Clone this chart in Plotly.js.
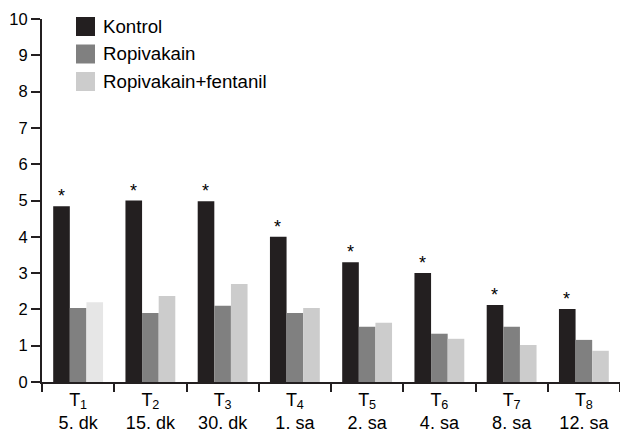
<!DOCTYPE html>
<html>
<head>
<meta charset="utf-8">
<script src="https://cdn.plot.ly/plotly-3.0.1.min.js"></script>
<style>html,body{margin:0;padding:0;background:#fff;}#chart{width:620px;height:434px;}</style>
</head>
<body>
<div id="chart"></div>
<script>
const categories = ["T1", "T2", "T3", "T4", "T5", "T6", "T7", "T8"];
const tickLabels = ["T<sub>1</sub><br>5. dk", "T<sub>2</sub><br>15. dk", "T<sub>3</sub><br>30. dk", "T<sub>4</sub><br>1. sa",
                    "T<sub>5</sub><br>2. sa", "T<sub>6</sub><br>4. sa", "T<sub>7</sub><br>8. sa", "T<sub>8</sub><br>12. sa"];
const seriesNames = ["Kontrol", "Ropivakain", "Ropivakain+fentanil"];
const kontrol = [4.84, 5.0, 4.98, 4.0, 3.3, 3.0, 2.12, 2.01];
const ropivakain = [2.04, 1.9, 2.1, 1.9, 1.52, 1.33, 1.52, 1.16];
const ropiFentanil = [2.2, 2.37, 2.7, 2.04, 1.63, 1.19, 1.02, 0.86];
const significant = [true, true, true, true, true, true, true, true];

const colors = ["#231f20", "#808080", "#cccccc"];
const rfColors = ropiFentanil.map((v, i) => i === 0 ? "#e6e6e6" : colors[2]);

const W = 620, H = 434;
const M = {l: 42, r: 0, t: 19, b: 52};
const px = x => (x - M.l) / (W - M.l - M.r);
const py = y => (H - M.b - y) / (H - M.t - M.b);
const FONT = "Liberation Sans, Arial, Helvetica, sans-serif";

const traces = [
  {type: "bar", name: seriesNames[0], x: categories, y: kontrol, marker: {color: colors[0]}},
  {type: "bar", name: seriesNames[1], x: categories, y: ropivakain, marker: {color: colors[1]}},
  {type: "bar", name: seriesNames[2], x: categories, y: ropiFentanil, marker: {color: rfColors}}
];

const annotations = [];
categories.forEach((c, i) => {
  if (significant[i]) {
    annotations.push({x: c, y: kontrol[i], xref: "x", yref: "y", text: "*", showarrow: false,
      xshift: -17, yanchor: "bottom", yshift: -2, font: {size: 18, color: "#000", family: FONT}});
  }
});

const shapes = [];
seriesNames.forEach((n, i) => {
  const top = 17 + i * 27.5;
  shapes.push({type: "rect", xref: "paper", yref: "paper", x0: px(76), x1: px(95), y0: py(top + 19), y1: py(top),
    fillcolor: colors[i], line: {width: 0}});
  annotations.push({xref: "paper", yref: "paper", x: px(101), y: py(top + 9.5), xanchor: "left", yanchor: "middle",
    text: n, showarrow: false, font: {size: 18.7, color: "#000", family: FONT}});
});

const layout = {
  width: W, height: H,
  margin: M,
  paper_bgcolor: "#fff", plot_bgcolor: "#fff",
  showlegend: false,
  barmode: "group",
  bargap: 0.31,
  bargroupgap: 0,
  font: {family: FONT, size: 16, color: "#000"},
  xaxis: {
    tickvals: categories, ticktext: tickLabels,
    tickson: "boundaries", ticks: "outside", ticklen: 8, tickwidth: 2, tickcolor: "#231f20",
    showline: true, linecolor: "#231f20", linewidth: 2,
    showgrid: false, zeroline: false,
    tickfont: {size: 18, color: "#000"}
  },
  yaxis: {
    range: [0, 10], dtick: 1, ticks: "outside", ticklen: 9, tickwidth: 2, tickcolor: "#231f20",
    showline: true, linecolor: "#231f20", linewidth: 2,
    showgrid: false, zeroline: false,
    tickfont: {size: 16.5, color: "#000"}
  },
  shapes: shapes,
  annotations: annotations
};

Plotly.newPlot("chart", traces, layout, {displayModeBar: false, staticPlot: true});
</script>
</body>
</html>
